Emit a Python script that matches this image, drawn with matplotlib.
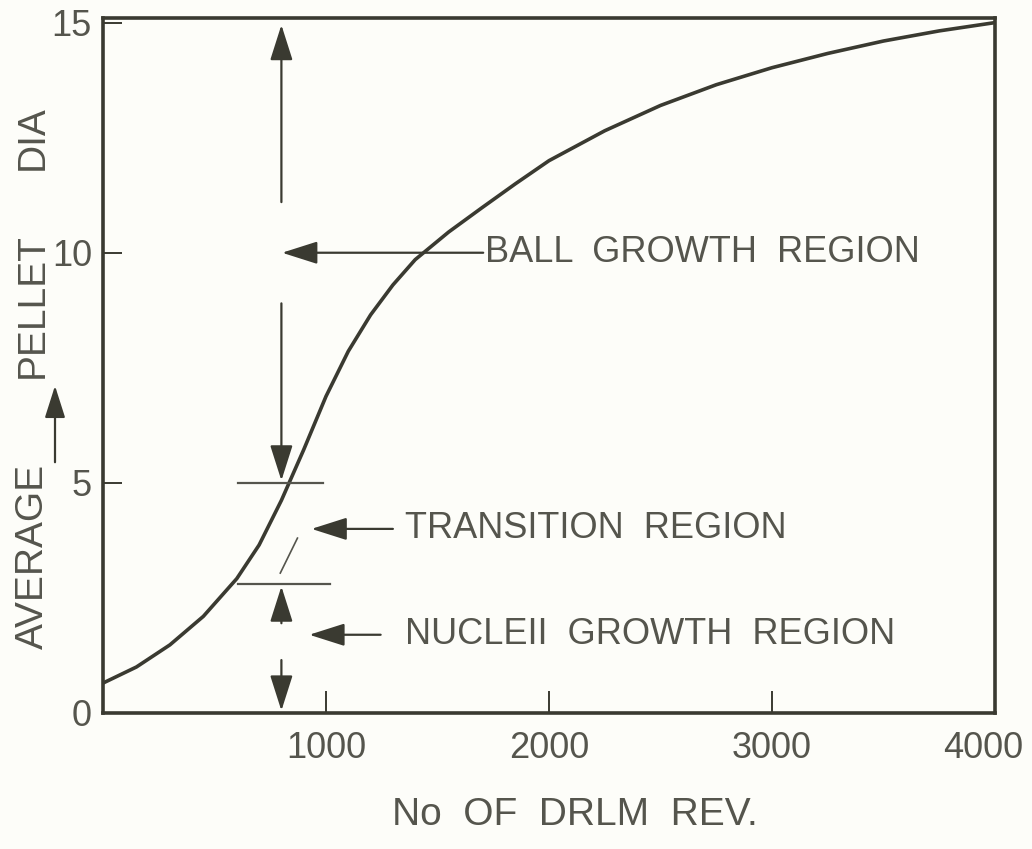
import matplotlib
matplotlib.use("Agg")
import matplotlib.pyplot as plt
from matplotlib import font_manager as fm
from matplotlib.patches import FancyArrowPatch
from matplotlib.transforms import ScaledTranslation

# curve: drum revolutions vs average pellet diameter
rev = [0, 150, 300, 450, 600, 700, 800, 900, 1000, 1100, 1200, 1300, 1400,
       1550, 1700, 1850, 2000, 2250, 2500, 2750, 3000, 3250, 3500, 3750, 4000]
dia = [0.65, 1.0, 1.48, 2.1, 2.92, 3.65, 4.62, 5.72, 6.88, 7.86, 8.65, 9.3, 9.85,
       10.45, 10.98, 11.5, 12.0, 12.65, 13.2, 13.65, 14.02, 14.33, 14.6, 14.82, 15.0]

x_ticks = [1000, 2000, 3000, 4000]
y_ticks = [0, 5, 10, 15]

# region boundaries and where the region arrows sit
bound_rev = 800
nuc_top = 2.8
trans_top = 5.0
ball_top = 15.0

labels = ["BALL  GROWTH  REGION", "TRANSITION  REGION", "NUCLEII  GROWTH  REGION"]
label_y = [10.0, 4.0, 1.7]
arrow_tip = [803, 935, 925]
arrow_tail = [1705, 1300, 1245]
text_x = [1713, 1354, 1354]

INK = "#3a3a31"
GREY = "#55554d"

names = {f.name for f in fm.fontManager.ttflist}
if "Liberation Sans Narrow" in names:
    FONT, k = "Liberation Sans Narrow", 1.2
else:
    FONT, k = "Liberation Sans", 1.0
plt.rcParams["font.family"] = [FONT, "DejaVu Sans"]

W, H = 1032, 849
fig = plt.figure(figsize=(W / 100, H / 100), dpi=100, facecolor="#fdfdf9")
ax = fig.add_axes([103 / W, 1 - 713 / H, (995 - 103) / W, (713 - 18) / H])
ax.set_facecolor("#fdfdf9")

ax.plot(rev, dia, color=INK, lw=2.6, solid_capstyle="round", solid_joinstyle="round")

ax.set_xlim(0, 4000)
ax.set_ylim(0, 15.1)
for s in ax.spines.values():
    s.set_linewidth(2.6)
    s.set_color(INK)

ax.set_xticks(x_ticks)
ax.set_xticklabels([str(t) for t in x_ticks])
ax.set_yticks(y_ticks)
ax.set_yticklabels([str(t) for t in y_ticks])
ax.tick_params(axis="x", direction="in", length=16, width=1.4, color=INK,
               pad=13, labelsize=26 * k, labelcolor=GREY)
ax.tick_params(axis="y", direction="in", length=14, width=1.4, color=INK,
               pad=8, labelsize=26 * k, labelcolor=GREY)
# last x label sits a little left of its tick, as in the scan
last = ax.get_xticklabels()[-1]
last.set_transform(last.get_transform() + ScaledTranslation(-12 / 100, 0, fig.dpi_scale_trans))

head = dict(arrowstyle="-|>,head_length=1.1,head_width=0.35", color=INK,
            lw=1.6, shrinkA=0, shrinkB=0, mutation_scale=20)

# ball growth: double arrow 5 -> 15 with a gap for the label arrow
ax.annotate("", xy=(bound_rev, ball_top - 0.05), xytext=(bound_rev, 11.1), arrowprops=head)
ax.annotate("", xy=(bound_rev, trans_top + 0.05), xytext=(bound_rev, 8.9), arrowprops=head)

# nucleii growth: double arrow 0 -> 2.8 with a gap
ax.annotate("", xy=(bound_rev, nuc_top - 0.05), xytext=(bound_rev, 1.95), arrowprops=head)
ax.annotate("", xy=(bound_rev, 0.05), xytext=(bound_rev, 1.15), arrowprops=head)

# transition stroke between the two markers
ax.plot([795, 872], [3.04, 3.8], color=GREY, lw=1.2)

# region boundary bars
ax.plot([605, 985], [trans_top, trans_top], color=GREY, lw=1.6)
ax.plot([605, 1020], [nuc_top, nuc_top], color=GREY, lw=1.6)

# pointer arrows and region names
for lab, y, tip, tail, tx in zip(labels, label_y, arrow_tip, arrow_tail, text_x):
    ax.annotate("", xy=(tip, y), xytext=(tail, y), arrowprops=head)
    ax.text(tx, y, lab, ha="left", va="center", fontsize=26 * k, color=GREY)

# axis titles
fig.text(575 / W, 1 - 815 / H, "No  OF  DRLM  REV.", ha="center", va="center",
         fontsize=28 * k, color=GREY)
fig.text(33 / W, 1 - 556 / H, "AVERAGE", rotation=90, ha="center", va="center",
         fontsize=28 * k, color=GREY)
fig.text(33 / W, 1 - 306 / H, "PELLET", rotation=90, ha="center", va="center",
         fontsize=28 * k, color=GREY)
fig.text(33 / W, 1 - 138 / H, "DIA", rotation=90, ha="center", va="center",
         fontsize=28 * k, color=GREY)
fig.patches.append(FancyArrowPatch(
    (55 / W, 1 - 465 / H), (55 / W, 1 - 383 / H), transform=fig.transFigure,
    arrowstyle="-|>,head_length=1.1,head_width=0.35", mutation_scale=18,
    color=INK, lw=1.6))

fig.savefig("out.png", dpi=100, facecolor=fig.get_facecolor())
